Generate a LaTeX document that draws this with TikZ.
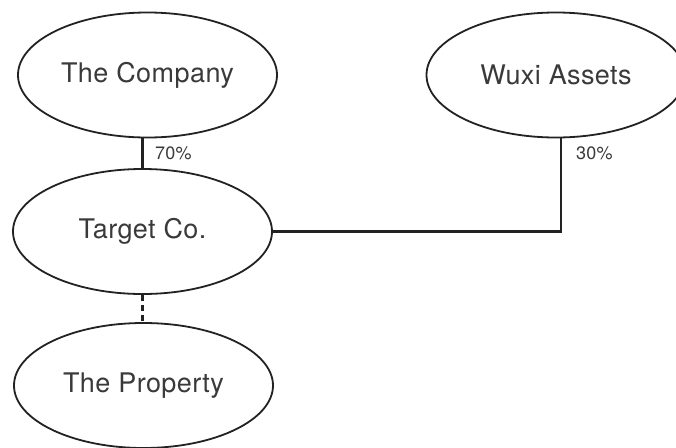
\documentclass[tikz,border=0pt]{standalone}
\usepackage{fontspec}
\setmainfont{TeX Gyre Heros}[LetterSpace=1.5]
\usetikzlibrary{shapes.geometric}
\definecolor{ink}{HTML}{222222}
\definecolor{txt}{HTML}{3A3A3A}
\tikzset{
  ent/.style={ellipse, draw=ink, line width=1.8pt, minimum width=259pt, minimum height=125pt,
    inner sep=0pt, text=txt, font=\fontsize{27}{30}\selectfont},
  link/.style={draw=ink, line width=2.1pt},
  pct/.style={anchor=west, inner sep=0pt, text=txt, font=\fontsize{18}{20}\selectfont}
}
\begin{document}
\begin{tikzpicture}[x=1pt,y=-1pt]
\clip (0,0) rectangle (676,447);
\fill[white] (0,0) rectangle (676,447);
\node[ent] (com) at (147.5,75) {The Company};
\node[ent] (wux) at (556,75) {Wuxi Assets};
\node[ent] (tgt) at (142.5,231.5) {Target Co.};
\node[ent] (prop) at (143.5,385.5) {The Property};
\draw[link] (tgt.north) -- (tgt.north |- com.south);
\draw[link] (tgt.east) -| ([xshift=5pt]wux.south);
\draw[link, dash pattern=on 6pt off 4pt] (tgt.south) -- (tgt.south |- prop.north);
\node[pct] (p70) at (155,153) {70\%};
\node[pct] (p30) at (576,153) {30\%};
\end{tikzpicture}
\end{document}
